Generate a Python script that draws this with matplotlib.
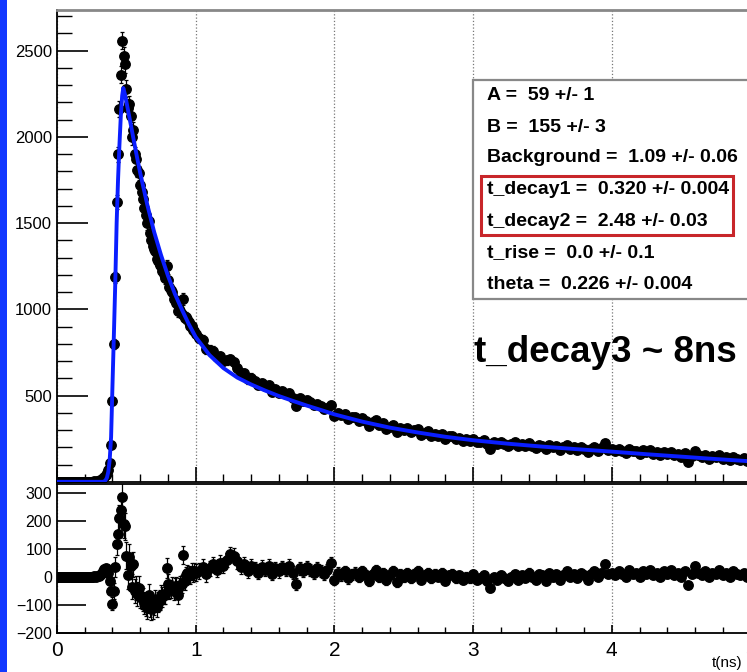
import numpy as np
import matplotlib
matplotlib.use("Agg")
import matplotlib.pyplot as plt
from matplotlib.patches import Rectangle
from matplotlib.ticker import MultipleLocator

plt.rcParams['font.family'] = ['Liberation Sans', 'DejaVu Sans']

# --- data ---
# counts, t = 0.00 .. 1.00 in steps of 0.01
counts_early = [
    1, 0, 2, 1, 1, 0, 1, 2, 1, 0,
    1, 1, 2, 0, 1, 1, 2, 1, 0, 1,
    1, 2, 1, 1, 0, 2, 1, 3, 2, 4,
    5, 9, 14, 22, 30, 38, 52, 70, 110, 215,
    470, 800, 1185, 1620, 1900, 2160, 2360, 2557, 2470, 2420,
    2280, 2170, 2190, 2120, 2000, 2040, 1900, 1870, 1810, 1790,
    1720, 1680, 1640, 1590, 1545, 1500, 1515, 1440, 1400, 1370,
    1350, 1340, 1290, 1280, 1260, 1250, 1220, 1205, 1180, 1250,
    1170, 1130, 1110, 1100, 1060, 1055, 1040, 990, 1000, 990,
    975, 1060, 950, 955, 945, 925, 905, 905, 880, 875,
    855,
]
resid_early = [
    0, -1, 1, 0, 0, -1, 0, 1, 0, -1,
    0, 0, 1, -1, 0, 0, 1, 0, -1, 0,
    0, 1, 0, 0, -1, 1, 0, 2, 1, 3,
    4, 8, 12, 20, 27, 30, 28, 15, -14, -49,
    -95, -50, 35, 117, 152, 210, 240, 285, 190, 180,
    75, 5, 70, 40, -35, 45, -50, -40, -60, -40,
    -70, -75, -80, -92, -100, -110, -63, -105, -115, -112,
    -100, -83, -106, -90, -82, -65, -71, -62, -63, 31,
    -25, -44, -43, -32, -51, -35, -32, -64, -36, -28,
    -25, 77, -16, 6, 13, 10, 5, 20, 10, 20,
    15,
]
# counts, t = 1.025 .. 5.000 in steps of 0.025
counts_late = [
    835, 825, 772, 765, 761, 722, 729, 700, 706, 712,
    694, 660, 630, 630, 595, 605, 586, 562, 574, 555,
    562, 524, 536, 518, 526, 509, 517, 485, 438, 487,
    470, 478, 462, 446, 454, 438, 422, 430, 449, 382,
    402, 387, 396, 366, 376, 375, 355, 370, 351, 326,
    347, 357, 328, 339, 309, 320, 331, 288, 314, 301,
    312, 289, 300, 307, 274, 286, 293, 269, 281, 268,
    280, 247, 265, 267, 250, 257, 240, 247, 240, 252,
    230, 233, 241, 219, 192, 230, 218, 231, 219, 207,
    220, 229, 207, 220, 208, 227, 210, 198, 217, 210,
    189, 217, 201, 209, 188, 201, 215, 193, 202, 185,
    204, 192, 176, 194, 203, 182, 195, 224, 187, 191,
    180, 193, 182, 170, 194, 177, 181, 164, 183, 171,
    185, 163, 172, 155, 174, 163, 176, 155, 163, 147,
    166, 114, 153, 181, 155, 144, 157, 136, 149, 143,
    157, 135, 144, 128, 146, 135, 129, 137, 121, 130,
]
resid_late = [
    20, 35, 10, 30, 45, 25, 50, 40, 60, 80,
    75, 55, 35, 45, 20, 40, 30, 15, 35, 25,
    40, 10, 30, 20, 35, 25, 40, 15, -25, 30,
    20, 35, 25, 15, 30, 20, 10, 25, 50, -10,
    15, 5, 20, -5, 10, 15, 0, 20, 5, -15,
    10, 25, 0, 15, -10, 5, 20, -20, 10, 0,
    15, -5, 10, 20, -10, 5, 15, -5, 10, 0,
    15, -15, 5, 10, -5, 5, -10, 0, -5, 10,
    -10, -5, 5, -15, -40, 0, -10, 5, -5, -15,
    0, 10, -10, 5, -5, 15, 0, -10, 10, 5,
    -15, 15, 0, 10, -10, 5, 20, 0, 10, -5,
    15, 5, -10, 10, 20, 0, 15, 45, 10, 15,
    5, 20, 10, 0, 25, 10, 15, 0, 20, 10,
    25, 5, 15, 0, 20, 10, 25, 5, 15, 0,
    20, -30, 10, 40, 15, 5, 20, 0, 15, 10,
    25, 5, 15, 0, 20, 10, 5, 15, 0, 10,
]

# fit curve
fit_t = [0.0, 0.33, 0.34, 0.35, 0.36, 0.37, 0.38, 0.39, 0.40, 0.41, 0.42,
         0.43, 0.44, 0.45, 0.46, 0.47, 0.478, 0.49, 0.50, 0.525, 0.55, 0.575,
         0.60, 0.65, 0.70, 0.75, 0.80, 0.85, 0.90, 0.95, 1.00, 1.10, 1.20,
         1.30, 1.40, 1.50, 1.60, 1.70, 1.80, 1.90, 2.00, 2.20, 2.40, 2.60,
         2.80, 3.00, 3.25, 3.50, 3.75, 4.00, 4.25, 4.50, 4.75, 5.00, 5.05]
fit_y = [1, 1, 3, 10, 25, 60, 130, 260, 560, 850, 1150,
         1500, 1750, 1950, 2120, 2240, 2283, 2245, 2205, 2100, 1995, 1890,
         1790, 1610, 1450, 1315, 1195, 1090, 1000, 915, 840, 735, 660,
         605, 565, 530, 498, 470, 443, 418, 392, 350, 315, 287,
         262, 242, 222, 205, 190, 176, 161, 147, 133, 120, 117]

stats = ["A =  59 +/- 1", "B =  155 +/- 3", "Background =  1.09 +/- 0.06",
         "t_decay1 =  0.320 +/- 0.004", "t_decay2 =  2.48 +/- 0.03",
         "t_rise =  0.0 +/- 0.1", "theta =  0.226 +/- 0.004"]

t = np.concatenate([0.01 * np.arange(len(counts_early)),
                    1.0 + 0.025 * np.arange(1, len(counts_late) + 1)])
counts = np.array(counts_early + counts_late, dtype=float)
resid = np.array(resid_early + resid_late, dtype=float)
err = np.sqrt(counts)

W, H = 747, 672
def fbox(x0, y0, x1, y1):
    return [x0 / W, 1 - y1 / H, (x1 - x0) / W, (y1 - y0) / H]

fig = plt.figure(figsize=(W / 100, H / 100), dpi=100)
fig.add_artist(Rectangle((0, 0), 7 / W, 1, transform=fig.transFigure,
                         color='#1238ff', lw=0))

ax = fig.add_axes(fbox(57, 10, 757, 482))
axr = fig.add_axes(fbox(57, 484, 757, 633))
xmax = 700 / 138.7

# top panel
ax.errorbar(t, counts, yerr=err, fmt='o', ms=6.8, color='k', ecolor='k',
            elinewidth=0.9, capsize=1.5, capthick=0.9, zorder=2)
ax.plot(fit_t, fit_y, color='#0a1eff', lw=2.8, zorder=3)
ax.set_xlim(0, xmax)
ax.set_ylim(0, 2735)
ax.xaxis.set_major_locator(MultipleLocator(1))
ax.xaxis.set_minor_locator(MultipleLocator(0.2))
ax.yaxis.set_minor_locator(MultipleLocator(100))
ax.set_xticklabels([])
ax.set_yticks([500, 1000, 1500, 2000, 2500])
ax.tick_params(axis='y', which='major', direction='in', length=22, width=1.2,
               labelsize=12, pad=3.5)
ax.tick_params(axis='y', which='minor', direction='in', length=11, width=1.0)
ax.tick_params(axis='x', which='major', direction='in', length=11, width=1.2)
ax.tick_params(axis='x', which='minor', direction='in', length=6, width=1.0)
ax.xaxis.grid(True, which='major', ls=':', color='#777777', lw=0.9)
ax.spines['top'].set_color('#888888')
ax.spines['top'].set_linewidth(2)
for s in ['left', 'bottom']:
    ax.spines[s].set_linewidth(1.3)

# bottom panel (residuals)
axr.errorbar(t, resid, yerr=err, fmt='o', ms=6.8, color='k', ecolor='k',
             elinewidth=0.9, capsize=1.5, capthick=0.9, zorder=2)
axr.set_xlim(0, xmax)
axr.set_ylim(-200, 331)
axr.xaxis.set_major_locator(MultipleLocator(1))
axr.xaxis.set_minor_locator(MultipleLocator(0.2))
axr.set_yticks([-200, -100, 0, 100, 200, 300])
axr.tick_params(axis='y', which='major', direction='in', length=21, width=1.2,
                labelsize=11.5, pad=3.5)
axr.tick_params(axis='x', which='major', direction='in', length=6, width=1.2,
                labelsize=15, pad=6)
axr.tick_params(axis='x', which='minor', direction='in', length=4, width=1.0)
axr.xaxis.grid(True, which='major', ls=':', color='#777777', lw=0.9)
for s in ['left', 'bottom', 'top']:
    axr.spines[s].set_linewidth(1.3)

fig.text(712 / W, 1 - 663 / H, "t(ns)", fontsize=11, va='center', ha='left')

# stats box
fig.add_artist(Rectangle((473 / W, 1 - 299 / H), 300 / W, 219 / H,
                         transform=fig.transFigure, facecolor='white',
                         edgecolor='#888888', lw=1.6, zorder=5))
ys = [96, 127, 158, 189, 221, 253, 284]
for s, y in zip(stats, ys):
    fig.text(487 / W, 1 - y / H, s, fontsize=14, fontweight='bold',
             va='center', ha='left', zorder=6)
fig.add_artist(Rectangle((481 / W, 1 - 235 / H), 252 / W, 59 / H,
                         transform=fig.transFigure, facecolor='none',
                         edgecolor='#c8262a', lw=2.2, zorder=7))

fig.text(474 / W, 1 - 353 / H, "t_decay3 ~ 8ns", fontsize=26.5,
         fontweight='bold', va='center', ha='left')

fig.savefig("out.png", dpi=100)
